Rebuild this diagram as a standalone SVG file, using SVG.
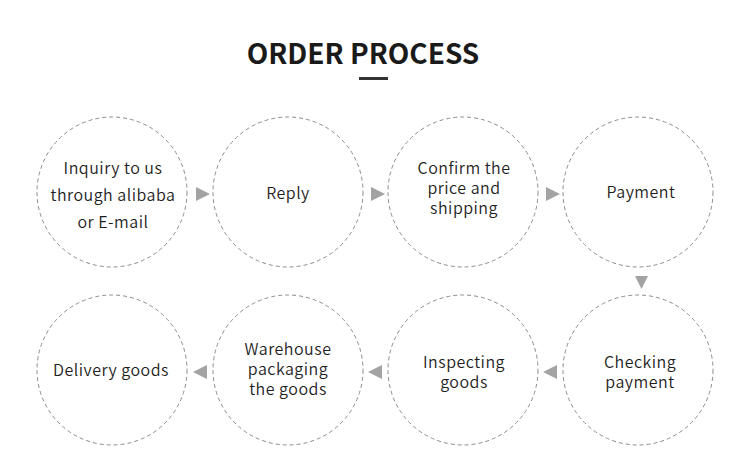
<svg xmlns="http://www.w3.org/2000/svg" width="750" height="476" viewBox="0 0 750 476">
<style>
.c{fill:#fff;stroke:#8c8c8c;stroke-width:1;stroke-dasharray:4 3}
.t{font-family:"Noto Sans CJK SC","Noto Sans",sans-serif;font-size:16px;font-weight:350;fill:#1e1e1e;text-anchor:middle;letter-spacing:0.5px}
.a{fill:#a3a3a3}
</style>
<rect width="750" height="476" fill="#fff"/>
<g id="title">
<text x="363" y="64" font-family="'Noto Sans CJK SC','Noto Sans',sans-serif" font-size="28" font-weight="bold" fill="#1a1a1a" text-anchor="middle">ORDER PROCESS</text>
<rect x="359" y="77" width="29" height="3" fill="#333"/>
</g>
<g id="connectors">
<polygon class="a" points="196,187 210,194 196,201"/>
<polygon class="a" points="371,187 385,194 371,201"/>
<polygon class="a" points="546,187 560,194 546,201"/>
<polygon class="a" points="635,276 648,276 641.5,289"/>
<polygon class="a" points="557,365 543,372 557,379"/>
<polygon class="a" points="382,365 368,372 382,379"/>
<polygon class="a" points="207,365 193,372 207,379"/>
</g>
<g id="n1"><circle class="c" cx="112" cy="192" r="75"/>
<text class="t" x="113" y="174">Inquiry to us</text>
<text class="t" x="113" y="201">through alibaba</text>
<text class="t" x="113" y="228">or E-mail</text></g>
<g id="n2"><circle class="c" cx="288" cy="192" r="75"/>
<text class="t" x="288" y="199">Reply</text></g>
<g id="n3"><circle class="c" cx="463" cy="192" r="75"/>
<text class="t" x="464" y="174">Confirm the</text>
<text class="t" x="464" y="194">price and</text>
<text class="t" x="464" y="214">shipping</text></g>
<g id="n4"><circle class="c" cx="638" cy="192" r="75"/>
<text class="t" x="641" y="198">Payment</text></g>
<g id="n5"><circle class="c" cx="638" cy="370" r="75"/>
<text class="t" x="640" y="368">Checking</text>
<text class="t" x="640" y="388">payment</text></g>
<g id="n6"><circle class="c" cx="463" cy="370" r="75"/>
<text class="t" x="464" y="368">Inspecting</text>
<text class="t" x="464" y="388">goods</text></g>
<g id="n7"><circle class="c" cx="288" cy="370" r="75"/>
<text class="t" x="288" y="355">Warehouse</text>
<text class="t" x="288" y="375">packaging</text>
<text class="t" x="288" y="395">the goods</text></g>
<g id="n8"><circle class="c" cx="112" cy="370" r="75"/>
<text class="t" x="111" y="376">Delivery goods</text></g>
</svg>
